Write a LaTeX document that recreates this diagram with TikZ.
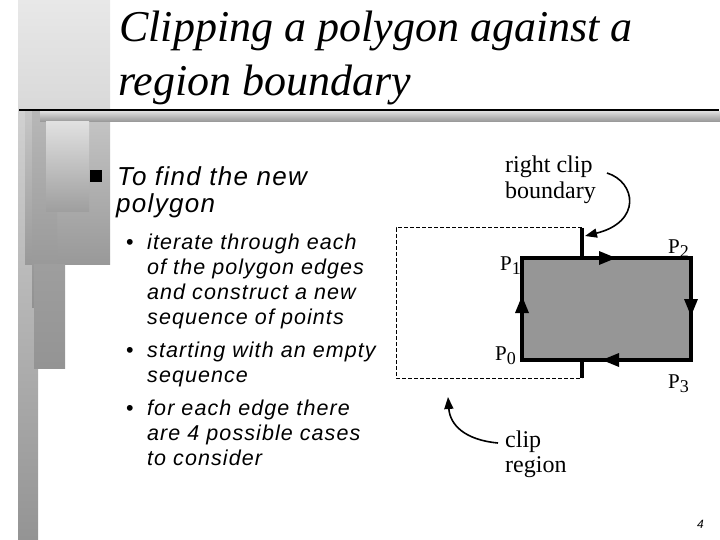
\documentclass[tikz,border=0pt]{standalone}
\usepackage{fontspec}
\setmainfont{Liberation Serif}
\newfontfamily\arialit[LetterSpace=5]{Liberation Sans Italic}
\newfontfamily\arialplain{Liberation Sans}
\usetikzlibrary{arrows.meta}
\newcommand\lsub[1]{\raisebox{-4pt}{\fontsize{18}{18}\selectfont #1}}
\tikzset{
  titletext/.style={font=\fontsize{44}{54}\selectfont\itshape, anchor=base west, inner sep=0pt},
  lvlone/.style={font=\arialit\fontsize{26}{30}\selectfont, anchor=base west, inner sep=0pt},
  lvltwo/.style={font=\arialit\fontsize{21.5}{25}\selectfont, anchor=base west, inner sep=0pt},
  dotmark/.style={font=\arialplain\fontsize{21.5}{25}\selectfont, anchor=base west, inner sep=0pt},
  lbl/.style={font=\fontsize{24}{26}\selectfont, anchor=base west, inner sep=0pt},
  plbl/.style={font=\fontsize{21}{24}\selectfont, anchor=base west, inner sep=0pt},
  edgearrow/.style={fill=black},
  pointer/.style={line width=1.6pt, -{Triangle[length=12pt,width=9pt]}},
}
\begin{document}
\begin{tikzpicture}[x=1pt,y=-1pt]
\useasboundingbox (0,0) rectangle (720,540);
% background decoration
\shade[top color=black!12, bottom color=black!42] (18,0) rectangle (38,540);
\shade[top color=black!9, bottom color=black!15] (18,0) rectangle (110,110);
\shade[top color=black!22, bottom color=black!40] (25,110) rectangle (110,264);
\shade[top color=black!28, bottom color=black!43] (32,110) rectangle (57,307);
\shade[top color=black!38, bottom color=black!42] (34,264) rectangle (65,368);
\shade[top color=black!15, bottom color=black!42] (40,112) rectangle (720,122);
\shade[top color=black!12, bottom color=black!38] (46,122) rectangle (89,212);
\draw[line width=2pt] (19,110.5) -- (719,110.5);
% title
\node[titletext] (t1) at (119,42) {Clipping a polygon against a};
\node[titletext] (t2) at (118,96) {region boundary};
% bullets
\fill (90,170) rectangle (102,182);
\node[lvlone] (b1a) at (117,186) {To find the new};
\node[lvlone] (b1b) at (116,213) {polygon};
\node[dotmark] at (126,249) {•};
\node[lvltwo] at (147,249) {iterate through each};
\node[lvltwo] at (147,274) {of the polygon edges};
\node[lvltwo] at (147,299) {and construct a new};
\node[lvltwo] at (147,324) {sequence of points};
\node[dotmark] at (126,357) {•};
\node[lvltwo] at (147,357) {starting with an empty};
\node[lvltwo] at (147,382) {sequence};
\node[dotmark] at (126,415.5) {•};
\node[lvltwo] at (147,415.5) {for each edge there};
\node[lvltwo] at (147,440.5) {are 4 possible cases};
\node[lvltwo] at (147,465) {to consider};
% diagram
\coordinate (P0) at (522,360);
\coordinate (P1) at (522,258);
\coordinate (P2) at (691,258);
\coordinate (P3) at (691,360);
\coordinate (CT) at (582,228);
\coordinate (CB) at (582,378);
\draw[line width=1pt, dash pattern=on 4pt off 2pt] (CT) -- (396,228) -- (396,378) -- (CB);
\draw[line width=4pt] (CT) -- (CB);
\filldraw[fill=black!41, line width=4pt, line join=miter] (P0) -- (P1) -- (P2) -- (P3) -- cycle;
\fill[edgearrow] (599,251) -- (616,258) -- (599,265) -- cycle;
\fill[edgearrow] (684,299) -- (691,316) -- (698,299) -- cycle;
\fill[edgearrow] (619,353) -- (602,360) -- (619,367) -- cycle;
\fill[edgearrow] (515,313) -- (522,296) -- (529,313) -- cycle;
\node[plbl] (l1) at (500,270) {P\lsub{1}};
\node[plbl] (l2) at (668,254) {P\lsub{2}};
\node[plbl] (l0) at (495,360) {P\lsub{0}};
\node[plbl] (l3) at (668,388) {P\lsub{3}};
\node[lbl] (rc1) at (505,173) {right clip};
\node[lbl] (rc2) at (505,199) {boundary};
\node[lbl] (cr1) at (505,447) {clip};
\node[lbl] (cr2) at (505,472) {region};
\coordinate (rcs) at (607,173);
\coordinate (rce) at (585,236);
\coordinate (crs) at (498,443);
\coordinate (cre) at (448,397);
\draw[pointer] (rcs) .. controls (636,182) and (642,222) .. (rce);
\draw[pointer] (crs) .. controls (465,440) and (450,425) .. (cre);
% page number
\node[font=\arialit\fontsize{12}{12}\selectfont, anchor=base west, inner sep=0pt] (pg) at (697,528) {4};
\end{tikzpicture}
\end{document}
